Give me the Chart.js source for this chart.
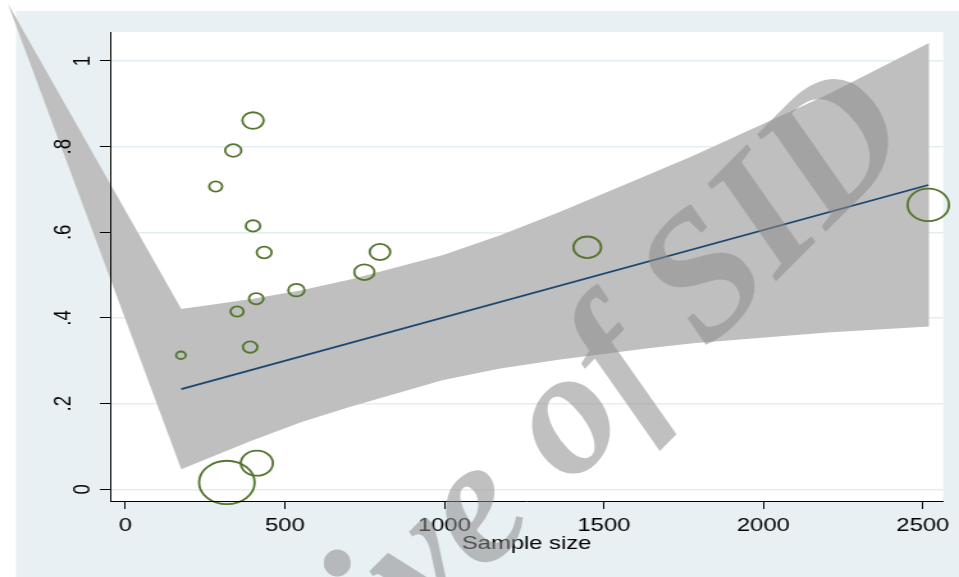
<!DOCTYPE html>
<html>
<head>
<meta charset="utf-8">
<script src="https://cdn.jsdelivr.net/npm/chart.js@4.4.1/dist/chart.umd.min.js"></script>
<style>
  html, body { margin: 0; padding: 0; background: #ffffff; }
</style>
</head>
<body>
<!-- the original graph was stretched sideways: draw it narrow, let the inline style widen it -->
<canvas id="chart" width="749" height="577" style="display:block;width:959px;height:577px"></canvas>
<script>
// studies: sample size, effect, weight (marker area follows the weight)
const sampleSize = [400, 338, 283, 400, 435, 798, 749, 536, 410, 350, 391, 174, 1448, 2517, 412, 318];
const effectSize = [0.861, 0.791, 0.707, 0.615, 0.553, 0.554, 0.507, 0.465, 0.445, 0.415, 0.332, 0.313, 0.565, 0.664, 0.061, 0.016];
const studyWeight = [6.9, 4.0, 2.6, 3.2, 3.4, 6.5, 6.2, 4.0, 3.2, 2.6, 3.2, 1.4, 11.7, 26.2, 15.6, 47.1];

// fitted line
const fitX = [175, 2517];
const fitY = [0.234, 0.7105];

// confidence band
const bandX = [-369, 175, 391, 548, 705, 996, 1175, 1363, 1645, 1780, 2200, 2519];
const bandUpper = [1.135, 0.421, 0.444, 0.464, 0.490, 0.547, 0.593, 0.648, 0.736, 0.779, 0.921, 1.042];
const bandLower = [1.135, 0.047, 0.112, 0.156, 0.193, 0.255, 0.282, 0.303, 0.330, 0.341, 0.366, 0.380];

const xTicks = [0, 500, 1000, 1500, 2000, 2500];
const yTicks = [0, 0.2, 0.4, 0.6, 0.8, 1];
const yTickLabels = ["0", ".2", ".4", ".6", ".8", "1"];

const X_MIN = -48, X_MAX = 2563.6;
const Y_MIN = -0.0273, Y_MAX = 1.0677;
const STRETCH = 959 / 749;
const FONT = "'Liberation Sans', Arial, sans-serif";

const decor = {
  id: "decor",
  beforeDraw(chart) {
    const { ctx, chartArea: a } = chart;
    ctx.save();
    ctx.fillStyle = "#e8f0f3";
    ctx.fillRect(12.5, 11, chart.width - 12.5, chart.height - 11);
    ctx.fillStyle = "#ffffff";
    ctx.fillRect(a.left, a.top, a.right - a.left, a.bottom - a.top);
    ctx.restore();
  },
  beforeDatasetsDraw(chart) {
    // band is not clipped: its left tip runs out past the plot region
    const { ctx, scales } = chart;
    ctx.save();
    ctx.beginPath();
    bandX.forEach((v, i) => {
      const px = scales.x.getPixelForValue(v);
      const py = scales.y.getPixelForValue(bandUpper[i]);
      if (i === 0) ctx.moveTo(px, py); else ctx.lineTo(px, py);
    });
    for (let i = bandX.length - 1; i >= 0; i--) {
      ctx.lineTo(scales.x.getPixelForValue(bandX[i]), scales.y.getPixelForValue(bandLower[i]));
    }
    ctx.closePath();
    ctx.fillStyle = "#bfbfbf";
    ctx.fill();
    ctx.restore();
  },
  afterDraw(chart) {
    const ctx = chart.ctx;
    ctx.save();
    ctx.scale(1 / STRETCH, 1);
    ctx.translate(524, 533);
    ctx.rotate(-45 * Math.PI / 180);
    ctx.font = "italic bold 179px 'Liberation Serif', serif";
    ctx.fillStyle = "rgba(140,140,140,0.55)";
    ctx.textAlign = "center";
    ctx.textBaseline = "alphabetic";
    ctx.fillText("Archive of SID", 0, 0);
    ctx.restore();
  },
};

new Chart(document.getElementById("chart"), {
  type: "scatter",
  data: {
    datasets: [
      {
        data: sampleSize.map((x, i) => ({ x, y: effectSize[i] })),
        pointRadius: (c) => Math.sqrt(studyWeight[c.dataIndex] * 10),
        pointHoverRadius: (c) => Math.sqrt(studyWeight[c.dataIndex] * 10),
        pointBorderColor: "#55752f",
        pointBackgroundColor: "rgba(0,0,0,0)",
        pointBorderWidth: 1.8,
        clip: false,
      },
      {
        data: fitX.map((x, i) => ({ x, y: fitY[i] })),
        showLine: true,
        borderColor: "#1a476f",
        borderWidth: 1.8,
        pointRadius: 0,
        fill: false,
      },
    ],
  },
  options: {
    responsive: false,
    devicePixelRatio: 1,
    animation: false,
    events: [],
    // no extra room for big markers: they spill over the frame, as in the original
    layout: { autoPadding: false, padding: { left: 0, top: 32, right: 12.4, bottom: 0 } },
    plugins: { legend: { display: false }, tooltip: { enabled: false } },
    scales: {
      x: {
        type: "linear",
        min: X_MIN,
        max: X_MAX,
        afterBuildTicks: (s) => { s.ticks = xTicks.map((v) => ({ value: v })); },
        grid: { drawOnChartArea: false, tickLength: 8, tickColor: "#000", tickWidth: 1 },
        border: { color: "#000", width: 1, z: 1 },
        ticks: {
          color: "#000",
          font: { family: FONT, size: 18.6 },
          padding: 6,
          maxRotation: 0,
          autoSkip: false,
          callback: (v) => String(v),
        },
        title: {
          display: true,
          text: "Sample size",
          color: "#000",
          font: { family: FONT, size: 18.6 },
          padding: { top: 0, bottom: 22.3 },
        },
        afterFit: (s) => { s.height = 76; s.paddingLeft = 0; s.paddingRight = 0; },
      },
      y: {
        type: "linear",
        position: "left",
        min: Y_MIN,
        max: Y_MAX,
        afterBuildTicks: (s) => { s.ticks = yTicks.map((v) => ({ value: v })); },
        grid: { drawOnChartArea: false, tickLength: 8, tickColor: "#000", tickWidth: 1, z: 1 },
        border: { color: "#000", width: 1, z: 1 },
        ticks: {
          color: "#000",
          font: { family: FONT, size: 18.6, lineHeight: 1.59 },
          minRotation: 90,
          maxRotation: 90,
          crossAlign: "center",
          padding: 20.4,
          autoSkip: false,
          z: 1,
          // labels without a leading dot sit closer to the axis, as in the original
          callback: (v, i) => (yTickLabels[i].startsWith(".") ? yTickLabels[i] : ["", yTickLabels[i]]),
        },
        afterFit: (s) => { s.width = 86; s.paddingTop = 0; s.paddingBottom = 0; },
      },
      yGrid: {
        type: "linear",
        position: "left",
        min: Y_MIN,
        max: Y_MAX,
        afterBuildTicks: (s) => { s.ticks = yTicks.map((v) => ({ value: v })); },
        grid: { color: "#e4edf1", lineWidth: 1.5, drawTicks: false },
        border: { display: false },
        ticks: { display: false },
        afterFit: (s) => { s.width = 0; s.paddingTop = 0; s.paddingBottom = 0; },
      },
    },
  },
  plugins: [decor],
});
</script>
</body>
</html>
